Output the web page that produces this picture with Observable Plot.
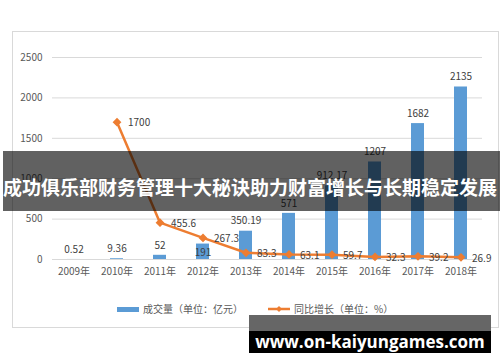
<!DOCTYPE html>
<html><head><meta charset="utf-8">
<script src="https://cdn.jsdelivr.net/npm/d3@7"></script>
<script src="https://cdn.jsdelivr.net/npm/@observablehq/plot@0.6"></script>
<style>
body{margin:0;background:#fff;}
#wrap{position:relative;width:500px;height:362px;overflow:hidden;font-family:"Noto Sans CJK SC","Noto Sans",sans-serif;}
#frame{position:absolute;left:12px;top:31px;width:485px;height:295px;border:1px solid #d9d9d9;}
#chart{position:absolute;left:0;top:0;}
.leg{position:absolute;top:301px;font-size:10px;color:#595959;line-height:16px;white-space:nowrap;}
#banner{position:absolute;left:3px;top:151px;width:497px;height:60px;background:rgba(0,0,0,0.62);color:#fff;font-weight:bold;font-size:19px;line-height:60px;padding-top:6px;box-sizing:border-box;white-space:nowrap;letter-spacing:0px;}
#site{position:absolute;left:249px;top:315px;width:242px;height:38px;background:#000;}
#site .top{position:absolute;left:0;top:0;width:242px;height:16px;background:#666;}
#site .txt{position:absolute;left:0;top:16px;width:242px;height:22px;line-height:22px;text-align:center;color:#fff;font-weight:bold;font-size:17px;font-family:"Open Sans","DejaVu Sans",sans-serif;}
</style></head><body>
<div id="wrap">
  <div id="frame"></div>
  <div id="chart"></div>
  <div class="leg" style="left:117px;"><span style="display:inline-block;width:22px;height:5px;background:#5B9BD5;vertical-align:middle;margin-right:4px;position:relative;top:-1px;"></span>成交量（单位：亿元）</div>
  <div class="leg" style="left:268px;"><svg width="22" height="8" style="vertical-align:middle;margin-right:4px;position:relative;top:-1px;"><line x1="0" y1="4" x2="22" y2="4" stroke="#ED7D31" stroke-width="2.5"/><path d="M11,1 L14,4 L11,7 L8,4 Z" fill="#ED7D31"/></svg>同比增长（单位：%）</div>
  <div id="banner">成功俱乐部财务管理十大秘诀助力财富增长与长期稳定发展</div>
  <div id="site"><div class="top"></div><div class="txt">www.on-kaiyungames.com</div></div>
</div>
<script>
const years = ["2009年","2010年","2011年","2012年","2013年","2014年","2015年","2016年","2017年","2018年"];
const volume = [0.52, 9.36, 52, 191, 350.19, 571, 912.17, 1207, 1682, 2135];
const growthYears = ["2010年","2011年","2012年","2013年","2014年","2015年","2016年","2017年","2018年"];
const growth = [1700, 455.6, 267.3, 83.3, 63.1, 59.7, 32.3, 39.2, 26.9];
const yTicks = [0, 500, 1000, 1500, 2000, 2500];

const bars = years.map((year, i) => ({year, value: volume[i]}));
const lineData = growthYears.map((year, i) => ({year, value: growth[i]}));
const insideLabel = "2012年";

const chart = Plot.plot({
  width: 500, height: 362,
  marginLeft: 52, marginRight: 18, marginTop: 57, marginBottom: 103,
  style: {fontFamily: '"Noto Sans CJK SC","Noto Sans",sans-serif', fontSize: "10px", color: "#595959", background: "transparent"},
  x: {domain: years, paddingInner: 0.7, paddingOuter: 0.35, label: null},
  y: {domain: [0, 2500], label: null},
  marks: [
    Plot.gridY(yTicks, {stroke: "#d9d9d9", strokeOpacity: 1, strokeWidth: 1}),
    Plot.axisY({ticks: yTicks, tickFormat: d => String(d), tickSize: 0, tickPadding: 10, label: null, fill: "#595959"}),
    Plot.axisX({tickSize: 0, tickPadding: 8, label: null, fill: "#595959"}),
    Plot.barY(bars, {x: "year", y: "value", fill: "#5B9BD5"}),
    Plot.text(bars.filter(d => d.year !== insideLabel), {x: "year", y: "value", text: d => String(d.value), dy: -10, fill: "#404040"}),
    Plot.text(bars.filter(d => d.year === insideLabel), {x: "year", y: "value", text: d => String(d.value), dy: 9, fill: "#404040"}),
    Plot.line(lineData, {x: "year", y: "value", stroke: "#ED7D31", strokeWidth: 2.5}),
    Plot.dot(lineData, {x: "year", y: "value", symbol: "diamond2", r: 3, fill: "#ED7D31", stroke: "#ED7D31"}),
    Plot.text(lineData, {x: "year", y: "value", text: d => String(d.value), textAnchor: "start", dx: 11, dy: 1, fill: "#404040"})
  ]
});
document.getElementById("chart").appendChild(chart);
</script>
</body></html>
